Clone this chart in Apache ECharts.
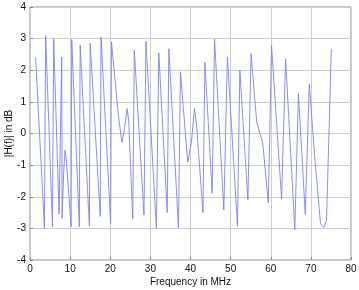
<!DOCTYPE html>
<html>
<head>
<meta charset="utf-8">
<script src="https://cdn.jsdelivr.net/npm/echarts@6/dist/echarts.min.js"></script>
<style>html,body{margin:0;padding:0;background:#fff;}#c{width:359px;height:290px;}</style>
</head>
<body>
<div id="c"></div>
<script>
const freq = [1.4, 3.6, 3.9, 5.6, 5.9, 7.25, 7.9, 8.0, 8.4, 8.75, 9.1, 10.25, 10.4, 12.3, 12.5, 14.8, 15.0, 17.5, 17.7, 20.1, 20.3, 22.0, 22.9, 23.5, 24.2, 24.6, 25.6, 26.0, 28.4, 28.9, 31.5, 32.1, 34.2, 34.6, 37.0, 37.5, 38.6, 39.3, 40.2, 41.0, 41.5, 43.1, 43.6, 45.4, 46.0, 48.3, 49.2, 51.7, 52.3, 54.3, 55.1, 56.5, 58.0, 59.4, 60.2, 62.7, 63.7, 66.0, 66.9, 68.6, 69.6, 71.0, 72.4, 73.2, 73.9, 75.1];
const mag = [2.4, -3.0, 3.1, -2.95, 3.0, -2.55, 2.42, -2.68, -1.2, -0.52, -0.9, -2.95, 2.97, -2.95, 2.8, -2.92, 2.85, -2.62, 3.06, -2.85, 2.9, 0.6, -0.28, 0.1, 0.79, 0.4, -2.7, 2.63, -2.58, 2.91, -3.0, 2.55, -2.5, 2.68, -2.98, 1.95, 0.2, -0.9, -0.3, 0.79, 0.3, -2.5, 2.25, -1.89, 2.98, -2.42, 2.42, -2.93, 2.0, -2.1, 2.52, 0.35, -0.3, -2.2, 2.78, -2.07, 2.36, -3.05, 1.26, -2.55, 1.55, -0.8, -2.85, -2.97, -2.75, 2.68];
const xTicks = [0, 10, 20, 30, 40, 50, 60, 70, 80];
const yTicks = [-4, -3, -2, -1, 0, 1, 2, 3, 4];
const xName = 'Frequency in MHz';
const yName = '|H(f)| in dB';

const chart = echarts.init(document.getElementById('c'), null, {renderer: 'canvas'});
const font = 'Liberation Sans';
chart.setOption({
  animation: false,
  backgroundColor: '#fff',
  grid: {left: 30, right: 8, top: 7, bottom: 30, containLabel: false, outerBoundsMode: 'none',
         show: true, borderColor: '#8a8a8a', borderWidth: 1, backgroundColor: '#fff'},
  xAxis: {
    type: 'value', min: xTicks[0], max: xTicks[xTicks.length - 1], interval: 10,
    name: xName, nameLocation: 'middle', nameGap: 17, nameMoveOverlap: false,
    nameTextStyle: {fontFamily: font, fontSize: 10, color: '#111'},
    axisLine: {show: false, onZero: false},
    axisTick: {show: true, inside: true, length: 3, lineStyle: {color: '#8a8a8a'}},
    axisLabel: {fontFamily: font, fontSize: 10, color: '#111', margin: 4},
    splitLine: {show: true, lineStyle: {color: '#cfcfcf', width: 1}}
  },
  yAxis: {
    type: 'value', min: yTicks[0], max: yTicks[yTicks.length - 1], interval: 1,
    name: yName, nameLocation: 'middle', nameGap: 16, nameMoveOverlap: false,
    nameTextStyle: {fontFamily: font, fontSize: 10, color: '#111'},
    axisLine: {show: false, onZero: false},
    axisTick: {show: true, inside: true, length: 3, lineStyle: {color: '#8a8a8a'}},
    axisLabel: {fontFamily: font, fontSize: 10, color: '#111', margin: 4},
    splitLine: {show: true, lineStyle: {color: '#cfcfcf', width: 1}}
  },
  series: [{
    type: 'line',
    data: freq.map((f, i) => [f, mag[i]]),
    showSymbol: false,
    lineStyle: {color: '#8080fa', width: 0.9},
    clip: true
  }]
});
</script>
</body>
</html>
